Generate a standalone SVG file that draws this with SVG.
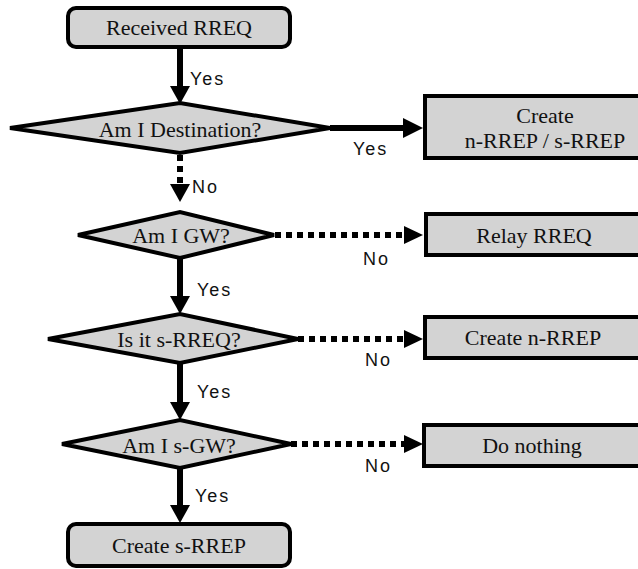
<svg xmlns="http://www.w3.org/2000/svg" width="638" height="569" viewBox="0 0 638 569">
<style>
.box{fill:#d3d3d3;stroke:#000;stroke-width:4}
.dia{fill:#d3d3d3;stroke:#000;stroke-width:4;stroke-linejoin:miter}
.t{font-family:"Liberation Serif","Times New Roman",serif;font-size:22px;fill:#111;text-anchor:middle}
.lbl{font-family:"Liberation Sans",Arial,sans-serif;font-size:18px;fill:#111;letter-spacing:2px}
.solid{stroke:#000;stroke-width:6;fill:none}
.dot{stroke:#000;stroke-width:6;fill:none;stroke-dasharray:6 5}
.head{fill:#000}
</style>
<rect width="638" height="569" fill="#fff"/>
<g id="connectors">
  <line class="solid" x1="180" y1="47" x2="180" y2="88"/>
  <polygon class="head" points="170,86 190,86 180,104"/>
  <line class="dot" x1="180" y1="155" x2="180" y2="185"/>
  <polygon class="head" points="170,184 190,184 180,202"/>
  <line class="solid" x1="180" y1="258" x2="180" y2="298"/>
  <polygon class="head" points="170,296 190,296 180,314"/>
  <line class="solid" x1="180" y1="363" x2="180" y2="404"/>
  <polygon class="head" points="170,402 190,402 180,420"/>
  <line class="solid" x1="180" y1="468" x2="180" y2="507"/>
  <polygon class="head" points="170,505 190,505 180,523"/>
  <line class="solid" x1="330" y1="128" x2="406" y2="128"/>
  <polygon class="head" points="403,118 403,138 423,128"/>
  <line class="dot" x1="275" y1="235" x2="405" y2="235"/>
  <polygon class="head" points="404,226 404,244 423,235"/>
  <line class="dot" x1="298" y1="339" x2="405" y2="339"/>
  <polygon class="head" points="404,330 404,348 423,339"/>
  <line class="dot" x1="291" y1="444" x2="405" y2="444"/>
  <polygon class="head" points="404,435 404,453 423,444"/>
  <text class="lbl" x="190" y="85">Yes</text>
  <text class="lbl" x="192" y="193">No</text>
  <text class="lbl" x="353" y="155">Yes</text>
  <text class="lbl" x="363" y="265">No</text>
  <text class="lbl" x="197" y="296">Yes</text>
  <text class="lbl" x="365" y="366">No</text>
  <text class="lbl" x="197" y="398">Yes</text>
  <text class="lbl" x="365" y="472">No</text>
  <text class="lbl" x="195" y="502">Yes</text>
</g>
<g id="start">
  <rect class="box" x="68" y="8" width="222" height="39" rx="8"/>
  <text class="t" x="179" y="35">Received RREQ</text>
</g>
<g id="dest">
  <polygon class="dia" points="10,128 180,103 330,128 180,153"/>
  <text class="t" x="180" y="137">Am I Destination?</text>
</g>
<g id="gw">
  <polygon class="dia" points="78,235 180,212 274,235 180,258"/>
  <text class="t" x="181" y="243">Am I GW?</text>
</g>
<g id="srreq">
  <polygon class="dia" points="48,339 180,314 298,339 180,363"/>
  <text class="t" x="179" y="347">Is it s-RREQ?</text>
</g>
<g id="sgw">
  <polygon class="dia" points="62,444 180,420 291,444 180,468"/>
  <text class="t" x="179" y="453">Am I s-GW?</text>
</g>
<g id="end">
  <rect class="box" x="68" y="524" width="222" height="42" rx="8"/>
  <text class="t" x="179" y="553">Create s-RREP</text>
</g>
<g id="create-both">
  <rect class="box" x="425" y="96" width="250" height="62"/>
  <text class="t" x="545" y="123">Create</text>
  <text class="t" x="545" y="148">n-RREP / s-RREP</text>
</g>
<g id="relay">
  <rect class="box" x="426" y="214" width="250" height="41"/>
  <text class="t" x="534" y="243">Relay RREQ</text>
</g>
<g id="create-n">
  <rect class="box" x="425" y="317" width="250" height="41"/>
  <text class="t" x="533" y="345">Create n-RREP</text>
</g>
<g id="nothing">
  <rect class="box" x="424" y="425" width="250" height="41"/>
  <text class="t" x="532" y="453">Do nothing</text>
</g>
</svg>
